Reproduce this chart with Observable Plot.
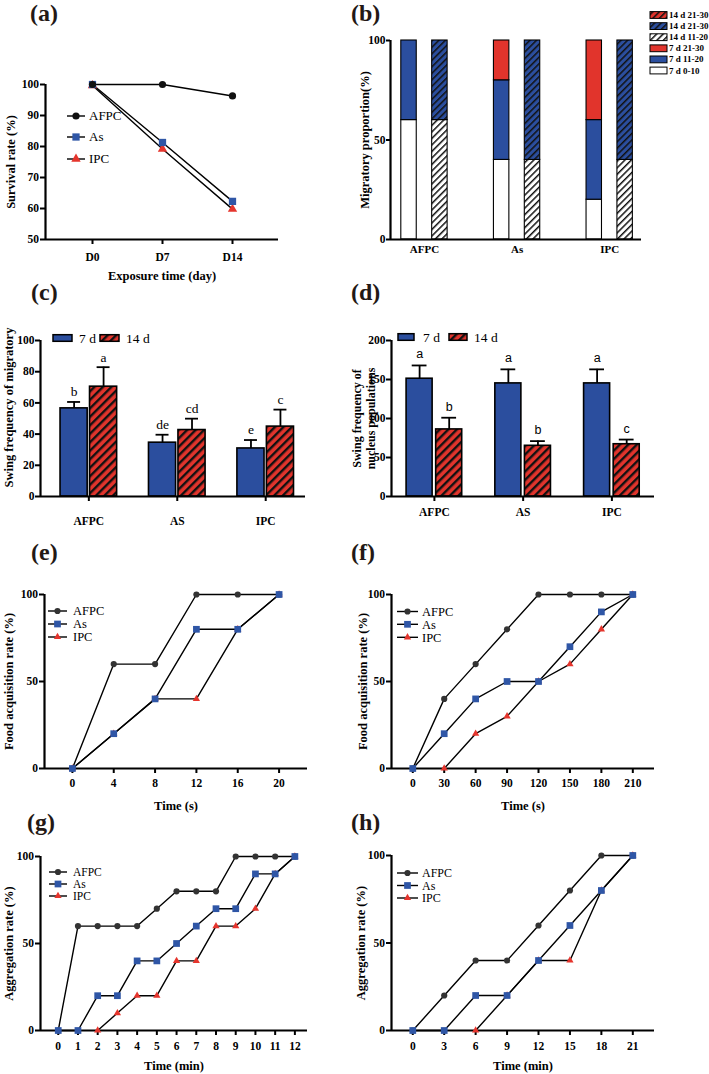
<!DOCTYPE html>
<html>
<head>
<meta charset="utf-8">
<script src="https://cdn.jsdelivr.net/npm/d3@7"></script>
<script src="https://cdn.jsdelivr.net/npm/@observablehq/plot@0.6"></script>
<style>
html,body{margin:0;padding:0;background:#fff;}
#root{position:relative;width:709px;height:1074px;overflow:hidden;background:#fff;}
#root svg{overflow:visible;}
</style>
</head>
<body>
<div id="root"></div>
<script>
// ---------- DATA ----------
// (a) survival
const daysA = [0, 7, 14];
const dayLabelsA = ["D0", "D7", "D14"];
const survivalAFPC = [100, 100, 96.3];
const survivalAs = [100, 81.3, 62.3];
const survivalIPC = [99.7, 79.2, 59.8];

// (b) migratory proportion
const groupsB = ["AFPC", "As", "IPC"];
const mig7d_0_10 = [60, 40, 20];
const mig7d_11_20 = [40, 40, 40];
const mig7d_21_30 = [0, 20, 40];
const mig14d_11_20 = [60, 40, 40];
const mig14d_21_30 = [40, 60, 60];
const legendB = ["14 d 21-30", "14 d 21-30", "14 d 11-20", "7 d 21-30", "7 d 11-20", "7 d 0-10"];

// (c) swing frequency of migratory
const groupsCD = ["AFPC", "AS", "IPC"];
const swingMig7d = [56.5, 34.5, 30.8];
const swingMig7dErr = [4.1, 5.1, 5.4];
const swingMig14d = [70.4, 42.6, 44.8];
const swingMig14dErr = [12.5, 7.3, 10.9];
const lettersC7d = ["b", "de", "e"];
const lettersC14d = ["a", "cd", "c"];

// (d) swing frequency of nucleus populations
const swingNuc7d = [151, 145, 145];
const swingNuc7dErr = [17, 18, 18];
const swingNuc14d = [86, 65, 67];
const swingNuc14dErr = [15, 6, 6];
const lettersD7d = ["a", "a", "a"];
const lettersD14d = ["b", "b", "c"];

// (e) food acquisition, seconds
const timeE = [0, 4, 8, 12, 16, 20];
const foodE_AFPC = [0, 60, 60, 100, 100, 100];
const foodE_As = [0, 20, 40, 80, 80, 100];
const foodE_IPC = [0, 20, 40, 40, 80, 100];

// (f) food acquisition, seconds
const timeF = [0, 30, 60, 90, 120, 150, 180, 210];
const foodF_AFPC = [0, 40, 60, 80, 100, 100, 100, 100];
const foodF_As = [0, 20, 40, 50, 50, 70, 90, 100];
const foodF_IPC = [null, 0, 20, 30, 50, 60, 80, 100];

// (g) aggregation, minutes
const timeG = [0, 1, 2, 3, 4, 5, 6, 7, 8, 9, 10, 11, 12];
const aggG_AFPC = [0, 60, 60, 60, 60, 70, 80, 80, 80, 100, 100, 100, 100];
const aggG_As = [0, 0, 20, 20, 40, 40, 50, 60, 70, 70, 90, 90, 100];
const aggG_IPC = [null, null, 0, 10, 20, 20, 40, 40, 60, 60, 70, 90, 100];

// (h) aggregation, minutes
const timeH = [0, 3, 6, 9, 12, 15, 18, 21];
const aggH_AFPC = [0, 20, 40, 40, 60, 80, 100, 100];
const aggH_As = [0, 0, 20, 20, 40, 60, 80, 100];
const aggH_IPC = [null, null, 0, 20, 40, 40, 80, 100];

// ---------- STYLE ----------
const SERIF = '"Liberation Serif", "Times New Roman", serif';
const SANS = '"Liberation Sans", Arial, sans-serif';
const BLUE = "#2b4e9e";
const RED = "#e1342c";
const root = document.getElementById("root");

// patterns
const defs = d3.select(root).append("svg").attr("width", 0).attr("height", 0)
  .style("position", "absolute").append("defs");
function hatch(id, bg, size, sw) {
  const p = defs.append("pattern").attr("id", id).attr("patternUnits", "userSpaceOnUse")
    .attr("width", size).attr("height", size).attr("patternTransform", "rotate(45)");
  p.append("rect").attr("width", size).attr("height", size).attr("fill", bg);
  p.append("rect").attr("width", sw).attr("height", size).attr("fill", "#111");
}
hatch("hbR", RED, 4.6, 1.5);
hatch("hbB", BLUE, 4.6, 1.5);
hatch("hbW", "#fff", 4.6, 1.5);
hatch("hcR", RED, 6, 2.4);

function place(node, left, top) {
  node.style.position = "absolute";
  node.style.left = left + "px";
  node.style.top = top + "px";
  root.appendChild(node);
}
const baseStyle = {fontFamily: SERIF, fontSize: "11.5px", fontWeight: "bold", color: "#000",
  background: "transparent", overflow: "visible"};
const TITLE = 12.5;

// ---------- LINE PANELS ----------
function linePanel(o) {
  const rows = [];
  for (const [name, vals] of o.series) o.t.forEach((t, i) => {
    if (vals[i] != null) rows.push({name, t, v: vals[i]});
  });
  const marks = [
    Plot.ruleX([o.xDomain[0]], {stroke: "#000", strokeWidth: 2.2}),
    Plot.ruleY([o.yDomain[0]], {stroke: "#000", strokeWidth: 2.2}),
    Plot.axisX({ticks: o.t, tickFormat: o.xFormat, tickSize: 5, tickPadding: o.xPad, strokeWidth: 2, label: null}),
    Plot.axisY({ticks: o.yTicks, tickSize: 5, tickPadding: 1.5, strokeWidth: 2, label: null}),
    Plot.line(rows, {x: "t", y: "v", z: "name", stroke: "#000", strokeWidth: 1.4})
  ];
  for (const name of o.order) {
    const st = o.styles[name];
    marks.push(Plot.dot(rows.filter(r => r.name === name),
      {x: "t", y: "v", symbol: st.symbol, fill: st.fill, r: st.r}));
  }
  marks.push(Plot.text([o.yTitle], {frameAnchor: "left", textAnchor: "middle", lineAnchor: "middle",
    dx: o.yDx, dy: o.yDy || 0, rotate: -90, fontSize: TITLE, fontWeight: "bold"}));
  if (o.xTitle) marks.push(Plot.text([o.xTitle], {frameAnchor: "bottom", textAnchor: "middle", lineAnchor: "middle",
    dy: o.xDy, fontSize: TITLE, fontWeight: "bold"}));
  const p = Plot.plot({
    width: o.box[2], height: o.box[3],
    marginLeft: o.m[0], marginRight: o.m[1], marginTop: o.m[2], marginBottom: o.m[3],
    x: {type: "linear", domain: o.xDomain},
    y: {type: "linear", domain: o.yDomain},
    style: baseStyle,
    marks
  });
  place(p, o.box[0], o.box[1]);
}

const stylesA = {
  AFPC: {symbol: "circle", fill: "#111", r: 3.6},
  As: {symbol: "square", fill: "#2f56a6", r: 4.1},
  IPC: {symbol: "triangle", fill: "#e5352d", r: 3.5}
};
const stylesE = {
  AFPC: {symbol: "circle", fill: "#333", r: 3.1},
  As: {symbol: "square", fill: "#2f56a6", r: 3.8},
  IPC: {symbol: "triangle", fill: "#e5352d", r: 2.7}
};

linePanel({
  box: [0, 60, 300, 240], m: [45, 22, 24, 61],
  t: daysA, xFormat: d => dayLabelsA[daysA.indexOf(d)], xDomain: [-4.7, 18.6], xPad: 8,
  yDomain: [50, 100], yTicks: [50, 60, 70, 80, 90, 100],
  series: [["AFPC", survivalAFPC], ["As", survivalAs], ["IPC", survivalIPC]],
  order: ["IPC", "As", "AFPC"], styles: stylesA,
  xTitle: "Exposure time (day)", xDy: 36, yTitle: "Survival rate (%)", yDx: -35
});
linePanel({
  box: [0, 580, 330, 230], m: [44, 23, 14, 42],
  t: timeE, xFormat: d => String(d), xDomain: [-2.7, 22.75], xPad: 5,
  yDomain: [0, 100], yTicks: [0, 50, 100],
  series: [["AFPC", foodE_AFPC], ["As", foodE_As], ["IPC", foodE_IPC]],
  order: ["AFPC", "IPC", "As"], styles: stylesE,
  xTitle: "Time (s)", xDy: 37, yTitle: "Food acquisition rate (%)", yDx: -36
});
linePanel({
  box: [354, 580, 320, 230], m: [37, 20, 14, 42],
  t: timeF, xFormat: d => String(d), xDomain: [-20.3, 230.7], xPad: 5,
  yDomain: [0, 100], yTicks: [0, 50, 100],
  series: [["AFPC", foodF_AFPC], ["As", foodF_As], ["IPC", foodF_IPC]],
  order: ["AFPC", "IPC", "As"], styles: stylesE,
  xTitle: "Time (s)", xDy: 37, yTitle: "Food acquisition rate (%)", yDx: -29
});
linePanel({
  box: [0, 840, 330, 234], m: [40, 23, 16, 44],
  t: timeG, xFormat: d => String(d), xDomain: [-0.9, 12.64], xPad: 6,
  yDomain: [0, 100], yTicks: [0, 50, 100],
  series: [["AFPC", aggG_AFPC], ["As", aggG_As], ["IPC", aggG_IPC]],
  order: ["AFPC", "IPC", "As"], styles: stylesE,
  xTitle: "Time (min)", xDy: 35, yTitle: "Aggregation rate (%)", yDx: -32
});
linePanel({
  box: [354, 840, 320, 234], m: [37, 20, 15, 44],
  t: timeH, xFormat: d => String(d), xDomain: [-2.03, 23.07], xPad: 6,
  yDomain: [0, 100], yTicks: [0, 50, 100],
  series: [["AFPC", aggH_AFPC], ["As", aggH_As], ["IPC", aggH_IPC]],
  order: ["AFPC", "IPC", "As"], styles: stylesE,
  xTitle: "Time (min)", xDy: 35, yTitle: "Aggregation rate (%)", yDx: -31
});

// ---------- (b) STACKED BARS ----------
{
  const rows = [];
  groupsB.forEach((g, gi) => {
    let cum = 0;
    [["7 d 0-10", mig7d_0_10], ["7 d 11-20", mig7d_11_20], ["7 d 21-30", mig7d_21_30]].forEach(([key, arr]) => {
      const v = arr[gi];
      if (v > 0) rows.push({g, pos: gi * 3, key, y1: cum, y2: cum + v});
      cum += v;
    });
    cum = 0;
    [["14 d 11-20", mig14d_11_20], ["14 d 21-30", mig14d_21_30]].forEach(([key, arr]) => {
      const v = arr[gi];
      if (v > 0) rows.push({g, pos: gi * 3 + 1, key, y1: cum, y2: cum + v});
      cum += v;
    });
  });
  const p = Plot.plot({
    width: 290, height: 280, marginLeft: 36, marginRight: 3, marginTop: 20, marginBottom: 61,
    x: {type: "linear", domain: [-0.6, 7.53]},
    y: {type: "linear", domain: [0, 100]},
    color: {type: "ordinal", domain: ["7 d 0-10", "7 d 11-20", "7 d 21-30", "14 d 11-20", "14 d 21-30"],
      range: ["#fff", BLUE, RED, "url(#hbW)", "url(#hbB)"]},
    style: baseStyle,
    marks: [
      Plot.rect(rows, {x1: d => d.pos - 0.25, x2: d => d.pos + 0.25, y1: "y1", y2: "y2", fill: "key", stroke: "#000", strokeWidth: 1.1}),
      Plot.ruleX([-0.6], {stroke: "#000", strokeWidth: 2.2}),
      Plot.ruleY([0], {stroke: "#000", strokeWidth: 2.2}),
      Plot.axisX({ticks: [0.5, 3.5, 6.5], tickFormat: d => groupsB[Math.round((d - 0.5) / 3)], tickSize: 0, tickPadding: 6, label: null, fontSize: 11}),
      Plot.axisY({ticks: [0, 50, 100], tickSize: 4, tickPadding: 1, strokeWidth: 2, label: null}),
      Plot.text(["Migratory proportion(%)"], {frameAnchor: "left", textAnchor: "middle", lineAnchor: "middle",
        dx: -26, rotate: -90, fontSize: TITLE, fontWeight: "bold"})
    ]
  });
  place(p, 354, 20);
}

// ---------- (c) & (d) GROUPED BARS ----------
function barPanel(o) {
  const rows = [];
  o.groups.forEach((g, gi) => {
    rows.push({pos: gi * 3, v: o.v7[gi], err: o.e7[gi], letter: o.l7[gi], key: "7 d"});
    rows.push({pos: gi * 3 + 1, v: o.v14[gi], err: o.e14[gi], letter: o.l14[gi], key: "14 d"});
  });
  const marks = [
    Plot.ruleX(rows, {x: "pos", y1: "v", y2: d => d.v + d.err, stroke: "#000", strokeWidth: 1.8}),
    Plot.ruleY(rows, {y: d => d.v + d.err, x1: d => d.pos - o.cap, x2: d => d.pos + o.cap, stroke: "#000", strokeWidth: 1.8}),
    Plot.rect(rows, {x1: d => d.pos - o.hw, x2: d => d.pos + o.hw, y1: 0, y2: "v", fill: "key", stroke: "#000", strokeWidth: 1.6}),
    Plot.ruleX([o.xDomain[0]], {stroke: "#000", strokeWidth: 2.2}),
    Plot.ruleY([0], {stroke: "#000", strokeWidth: 2.2}),
    Plot.axisX({ticks: [0.5, 3.5, 6.5], tickFormat: d => o.groups[Math.round((d - 0.5) / 3)], tickSize: 5, tickPadding: o.xPad, strokeWidth: 2, label: null}),
    Plot.axisY({ticks: o.yTicks, tickSize: 5, tickPadding: 1, strokeWidth: 2, label: null}),
    Plot.text(rows, {x: "pos", y: d => d.v + d.err, text: "letter", dy: o.letterDy, fontSize: o.letterSize, fontWeight: "normal", fontFamily: o.letterFont})
  ];
  const n = o.yTitle.length;
  o.yTitle.forEach((line, i) => {
    marks.push(Plot.text([line], {frameAnchor: "left", textAnchor: "middle", lineAnchor: "middle",
      dx: o.yDx + (i - (n - 1) / 2) * 14, dy: o.yDy, rotate: -90, fontSize: o.titleSize || TITLE, fontWeight: "bold"}));
  });
  const p = Plot.plot({
    width: o.box[2], height: o.box[3],
    marginLeft: o.m[0], marginRight: o.m[1], marginTop: o.m[2], marginBottom: o.m[3],
    x: {type: "linear", domain: o.xDomain},
    y: {type: "linear", domain: o.yDomain},
    color: {type: "ordinal", domain: ["7 d", "14 d"], range: [BLUE, "url(#hcR)"]},
    style: baseStyle,
    marks
  });
  place(p, o.box[0], o.box[1]);
}
barPanel({
  box: [0, 310, 330, 230], m: [40, 25, 30, 44],
  xDomain: [-1.14, 7.85], yDomain: [0, 100], yTicks: [0, 20, 40, 60, 80, 100],
  groups: groupsCD, v7: swingMig7d, e7: swingMig7dErr, v14: swingMig14d, e14: swingMig14dErr,
  l7: lettersC7d, l14: lettersC14d, hw: 0.46, cap: 0.22, xPad: 15,
  letterDy: -10, letterSize: 13.5, letterFont: SERIF,
  yTitle: ["Swing frequency of migratory"], yDx: -32, yDy: -11
});
barPanel({
  box: [354, 310, 320, 230], m: [37, 20, 30, 44],
  xDomain: [-0.95, 7.94], yDomain: [0, 200], yTicks: [0, 50, 100, 150, 200],
  groups: groupsCD, v7: swingNuc7d, e7: swingNuc7dErr, v14: swingNuc14d, e14: swingNuc14dErr,
  l7: lettersD7d, l14: lettersD14d, hw: 0.44, cap: 0.25, xPad: 6,
  letterDy: -11, letterSize: 12.5, letterFont: SANS,
  yTitle: ["Swing frequency of", "nucleus populations"], yDx: -27, yDy: 0, titleSize: 12
});

// ---------- OVERLAY: panel letters & legends ----------
const ov = d3.select(root).append("svg").attr("width", 709).attr("height", 1074)
  .style("position", "absolute").style("left", "0px").style("top", "0px")
  .style("font-family", SERIF).style("overflow", "visible");

const panelLetters = [["(a)", 30, 21], ["(b)", 351, 21], ["(c)", 31, 300], ["(d)", 351, 300],
  ["(e)", 31, 560], ["(f)", 351, 560], ["(g)", 27, 830], ["(h)", 351, 830]];
for (const [t, x, y] of panelLetters) {
  ov.append("text").attr("x", x).attr("y", y).attr("font-size", 24).attr("font-weight", "bold")
    .attr("fill", "#231815").text(t);
}

const legendNames = ["AFPC", "As", "IPC"];
function symPath(st) {
  const type = st.symbol === "circle" ? d3.symbolCircle : st.symbol === "square" ? d3.symbolSquare : d3.symbolTriangle;
  return d3.symbol(type, Math.PI * st.r * st.r)();
}
function lineLegend(x0, x1, ys, xt, styles, fs) {
  legendNames.forEach((n, i) => {
    const y = ys[i], xm = (x0 + x1) / 2;
    ov.append("line").attr("x1", x0).attr("x2", x1).attr("y1", y).attr("y2", y).attr("stroke", "#000").attr("stroke-width", 1.4);
    ov.append("path").attr("d", symPath(styles[n])).attr("transform", `translate(${xm},${y})`).attr("fill", styles[n].fill);
    ov.append("text").attr("x", xt).attr("y", y + fs * 0.34).attr("font-size", fs).text(n);
  });
}
lineLegend(67, 85, [116, 137, 159], 89, stylesA, 13);
lineLegend(48, 67, [611, 624, 637], 73, stylesE, 12.5);
lineLegend(397, 418, [611.5, 624.3, 637.3], 422, stylesE, 12.5);
lineLegend(49, 67, [872, 884, 896], 73, stylesE, 11.5);
lineLegend(397, 418, [873, 885.5, 898], 422, stylesE, 12);

// (b) legend
const legendBFill = ["url(#hbR)", "url(#hbB)", "url(#hbW)", RED, BLUE, "#fff"];
legendB.forEach((label, i) => {
  const y = 15 + i * 11.1;
  ov.append("rect").attr("x", 650).attr("y", y - 3.4).attr("width", 17).attr("height", 6.8)
    .attr("fill", legendBFill[i]).attr("stroke", "#000").attr("stroke-width", 1);
  ov.append("text").attr("x", 669).attr("y", y + 3).attr("font-size", 9).attr("font-weight", "bold").text(label);
});

// (c) & (d) legends
function barLegend(s1, t1, s2, t2, y) {
  ov.append("rect").attr("x", s1[0]).attr("y", y - 3.3).attr("width", s1[1] - s1[0]).attr("height", 6.6)
    .attr("fill", BLUE).attr("stroke", "#000").attr("stroke-width", 1.5);
  ov.append("text").attr("x", t1).attr("y", y + 4.5).attr("font-size", 13.5).text("7 d");
  ov.append("rect").attr("x", s2[0]).attr("y", y - 3.3).attr("width", s2[1] - s2[0]).attr("height", 6.6)
    .attr("fill", "url(#hcR)").attr("stroke", "#000").attr("stroke-width", 1.5);
  ov.append("text").attr("x", t2).attr("y", y + 4.5).attr("font-size", 13.5).text("14 d");
}
barLegend([53, 72], 79, [100, 119], 126, 338);
barLegend([398, 414], 423, [449, 467], 474, 337);
</script>
</body>
</html>
